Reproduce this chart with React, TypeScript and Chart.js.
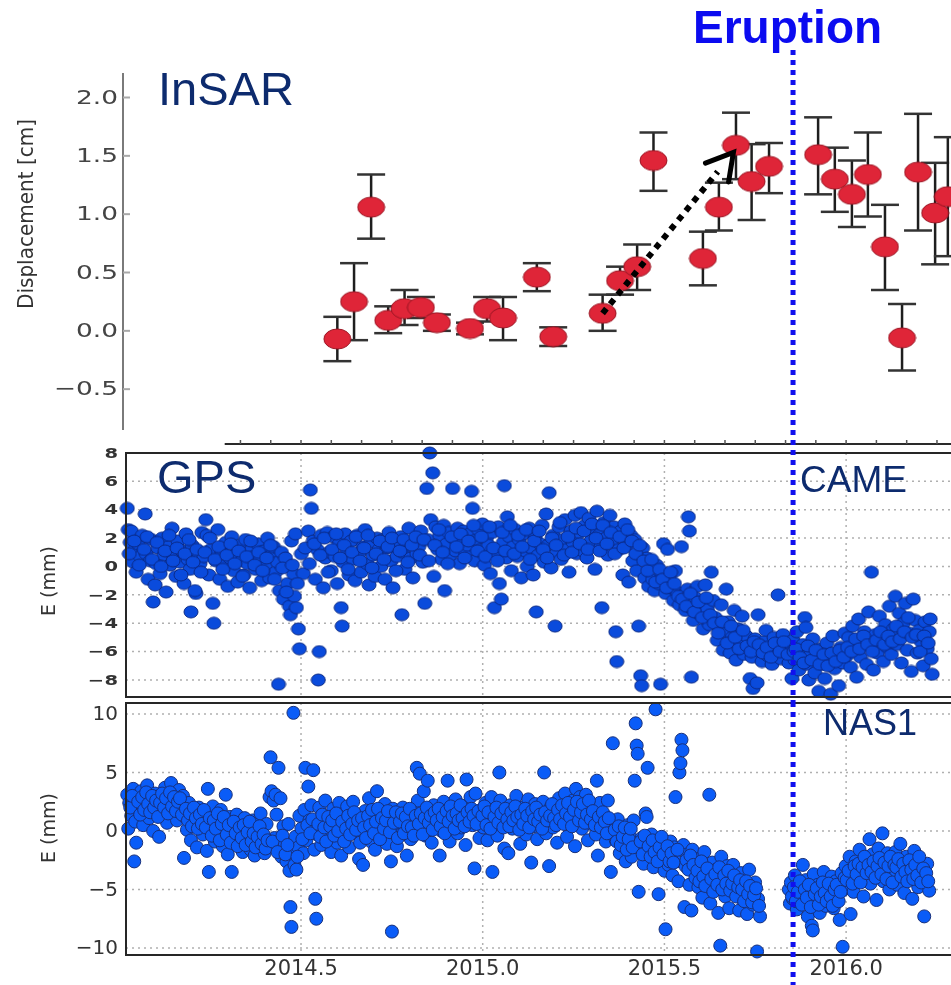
import React, { useEffect, useRef } from "react";
import { Chart, registerables } from "chart.js";

Chart.register(...registerables);

// ---------- shared x axis (decimal years) ----------
const X_TICKS = [2014.5, 2015.0, 2015.5, 2016.0];
const X_TICK_LABELS = ["2014.5", "2015.0", "2015.5", "2016.0"];
const ERUPTION_YEAR = 2015.854;
const GPS_DAY0_YEAR = 2014; // GPS samples: days since 2014-01-01

// ---------- InSAR panel ----------
const INSAR_YEAR = [2014.600, 2014.646, 2014.693, 2014.740, 2014.785, 2014.830, 2014.874, 2014.965, 2015.012, 2015.056, 2015.149, 2015.194, 2015.330, 2015.378, 2015.425, 2015.470, 2015.606, 2015.650, 2015.697, 2015.740, 2015.788, 2015.923, 2015.969, 2016.016, 2016.060, 2016.107, 2016.154, 2016.198, 2016.245, 2016.280];
const INSAR_CM = [-0.07, 0.25, 1.06, 0.09, 0.19, 0.20, 0.07, 0.02, 0.19, 0.11, 0.46, -0.05, 0.15, 0.43, 0.55, 1.46, 0.62, 1.06, 1.59, 1.28, 1.41, 1.51, 1.30, 1.17, 1.34, 0.72, -0.06, 1.36, 1.01, 1.15];
const INSAR_LOW = [-0.26, -0.08, 0.79, -0.02, 0.05, 0.11, 0.00, -0.03, 0.08, -0.08, 0.34, -0.13, 0.00, 0.31, 0.35, 1.20, 0.39, 0.86, 1.30, 0.95, 1.18, 1.17, 1.02, 0.89, 0.98, 0.35, -0.34, 0.86, 0.57, 0.64];
const INSAR_HIGH = [0.12, 0.58, 1.34, 0.21, 0.35, 0.29, 0.14, 0.07, 0.29, 0.29, 0.58, 0.03, 0.31, 0.55, 0.74, 1.70, 0.85, 1.27, 1.87, 1.60, 1.61, 1.83, 1.57, 1.46, 1.70, 1.08, 0.23, 1.86, 1.44, 1.66];
const INSAR_TICKS = [-0.5, 0, 0.5, 1.0, 1.5, 2.0];
const INSAR_TICK_LABELS = ["\u22120.5", "0.0", "0.5", "1.0", "1.5", "2.0"];
const ARROW_FROM = [2015.33, 0.15];
const ARROW_TO = [2015.69, 1.53];

// ---------- GPS CAME (day, E mm) ----------
const CAME_TICKS = [-8, -6, -4, -2, 0, 2, 4, 6, 8];
const CAME_TICK_LABELS = ["\u22128", "\u22126", "\u22124", "\u22122", "0", "2", "4", "6", "8"];
const CAME_DAY_E: [number, number][] = [
  [8,4.1],[9,2.6],[11,1.7],[12,2.5],[14,0.3],[16,1.2],[17,-0.4],[19,1.6],[21,0.7],[23,2.2],[26,3.7],[27,0.9],[29,-0.9],[31,0.4],[32,1.9],[34,-2.5],[36,-1.3],[37,0.2],[39,1.3],[41,-0.5],[43,2.0],[45,0.8],[47,-1.8],[49,1.4],[51,0.1],[53,2.7],[55,0.6],[57,-0.7],[59,1.8],[61,0.3],[63,1.1],[65,-1.2],[67,2.3],[69,0.5],[71,-0.2],[73,1.5],[75,0.9],[77,-1.9],[79,1.0],[81,0.2],
  [72,-3.2],[76,-1.7],[83,2.4],[85,0.7],[87,3.3],[88,2.2],[90,-0.6],[92,1.2],[94,-2.6],[95,-4.0],[97,0.4],[99,2.6],[101,-0.9],[103,1.0],[105,0.1],[107,1.7],[109,-1.4],[111,0.6],[113,2.1],[115,-0.3],[117,0.9],[119,-1.1],[121,1.5],[123,0.4],[125,-0.6],[127,1.9],[129,0.2],[131,-1.5],[133,1.2],[135,0.7],[137,-0.2],[139,1.6],[141,0.5],[143,-1.0],[145,1.1],[147,0.0],[149,2.0],[151,-0.8],[153,0.8],[155,1.4],[157,-0.4],[159,0.3],[161,-1.7],[163,1.0],[165,-2.3],[167,0.6],[169,-1.2],[171,-2.8],[173,1.8],[175,-0.5],
  [160,-8.3],[172,-3.4],[176,-2.1],[178,-2.9],[180,-4.4],[181,-5.8],[177,2.3],[183,0.9],[185,-0.5],
  [190,2.5],[192,5.4],[193,4.1],[195,1.8],[197,-0.9],[200,-8.0],[201,-6.0],[199,1.2],[203,2.2],[205,-1.5],[207,0.6],[209,2.4],[211,1.0],[213,-0.3],[215,2.1],[217,0.7],[219,-1.2],[221,1.6],[223,-2.9],[224,-4.2],[225,0.3],[227,2.3],[229,1.1],[231,-0.6],[233,1.8],[235,0.5],[237,-1.0],[239,2.2],[241,0.9],[243,-0.4],[245,1.4],[247,2.6],[249,0.2],[251,-1.3],[253,1.7],[255,0.8],[257,-0.7],[259,2.0],[261,1.2],[263,0.0],[265,1.9],[267,-0.9],[269,1.3],[271,2.4],[273,0.4],[275,-1.5],[277,1.6],[279,0.7],[284,-3.4],[283,2.1],[285,1.0],[287,-0.2],[289,1.5],[291,2.7],[293,0.6],[295,-0.8],[297,1.8],[299,0.9],
  [301,1.4],[303,2.5],[305,0.3],[307,-2.6],[309,5.5],[310,1.9],[312,8.0],[313,3.3],[315,6.6],[316,-0.7],[318,2.8],[320,1.2],[322,2.2],[324,0.5],[326,2.9],[327,-1.7],[329,1.6],[331,2.4],[333,0.8],[335,5.5],[336,2.0],[338,1.1],[340,2.7],[342,0.2],[344,1.8],[346,2.5],[348,0.9],[350,1.5],[352,2.3],[354,5.3],[355,4.1],[357,0.4],[359,1.9],[361,2.6],
  [363,1.2],[365,3.0],[367,0.1],[369,2.0],[371,1.5],[373,-0.5],[375,2.4],[377,-2.9],[379,1.0],[381,2.8],[382,-1.2],[384,-2.3],[386,1.7],[387,5.7],[389,0.6],[390,3.5],[392,2.1],[394,-0.3],[396,1.4],[398,2.6],[400,0.7],[402,1.9],[404,-0.8],[406,2.3],[408,1.1],[410,0.0],[412,2.7],[414,1.3],[416,-0.6],[418,2.0],[419,-3.2],[421,0.8],[423,1.6],[425,2.9],[427,0.3],[429,3.7],[431,1.5],[432,5.2],[434,-0.1],[436,2.2],[438,-4.2],[440,1.0],[442,2.8],[444,0.5],[446,1.9],[448,3.3],[450,1.2],[452,-0.4],[454,2.5],[456,1.7],[458,3.6],[460,0.9],
  [462,2.4],[464,3.8],[466,1.1],[468,2.9],[470,0.6],[472,3.4],[474,1.8],[476,2.6],[478,-0.2],[480,3.9],[482,2.2],[484,1.4],[485,-2.9],[487,3.1],[489,2.0],[491,0.8],[493,3.6],[495,1.7],[497,2.8],[499,-4.6],[500,-6.7],[502,1.2],[504,2.5],[506,-0.6],[508,3.0],[510,1.5],[512,-1.1],[514,2.2],[516,0.4],[518,1.9],[520,-0.3],[522,-4.2],[524,-7.7],[525,-8.4],[526,1.3],[528,-0.8],[530,0.6],[532,-1.4],[534,0.2],[536,-0.9],[538,-1.7],[540,0.1],[542,-1.2],[544,-8.3],[545,-0.5],[547,1.6],[549,-1.9],[551,1.2],[553,-0.7],[555,-1.5],[557,-2.4],[559,-0.3],[561,-1.8],[563,-2.7],[565,1.4],
  [567,-2.0],[569,-3.1],[571,-1.6],[572,3.5],[573,2.5],[575,-2.9],[577,-3.8],[579,-2.2],[581,-1.4],[583,-3.3],[585,-2.6],[587,-4.4],[589,-1.3],[591,-3.0],[593,-4.1],[595,-0.4],[597,-2.4],
  [575,-7.8],[599,-3.6],[601,-5.2],[603,-4.3],[605,-2.7],[607,-5.9],[609,-4.6],[610,-1.6],[612,-3.9],[614,-6.1],[616,-5.0],[618,-3.1],[620,-6.6],[622,-4.4],[624,-5.5],[626,-3.5],[628,-6.2],[630,-4.9],
  [632,-5.7],[634,-7.9],[636,-6.4],[637,-8.6],[639,-5.1],[641,-8.2],[642,-3.4],[644,-6.0],[646,-6.7],[648,-5.3],[650,-4.5],[652,-6.3],[654,-5.8],[656,-6.9],[658,-5.0],[660,-6.2],[662,-2.0],[663,-5.6],[665,-6.5],[667,-4.8],[669,-6.0],[671,-5.4],[673,-6.8],[675,-5.9],[676,-7.9],
  [677,-5.2],[679,-6.6],[681,-4.6],[683,-7.3],[685,-6.0],[687,-5.5],[689,-3.6],[690,-4.3],[691,-6.9],[693,-8.0],[695,-6.2],[697,-5.1],[699,-7.5],[701,-6.4],[703,-8.8],[705,-5.8],[707,-6.9],[709,-7.9],[711,-5.4],[713,-6.6],[715,-9.0],[717,-4.9],[719,-7.2],[721,-6.1],[723,-8.4],[725,-5.7],[727,-6.8],[729,-4.7],
  [731,-6.3],[733,-5.0],[735,-7.1],[737,-4.2],[739,-5.9],[741,-7.8],[743,-3.7],[745,-6.4],[747,-5.3],[749,-4.6],[751,-6.9],[753,-3.2],[755,-5.6],[756,-0.4],[758,-7.3],[760,-4.8],[762,-6.1],[764,-3.5],[766,-5.2],[768,-6.7],[770,-4.1],[772,-5.7],[774,-2.8],[776,-6.2],[778,-4.4],
  [780,-2.1],[782,-5.5],[784,-3.3],[786,-6.8],[788,-4.0],[790,-2.6],[792,-5.9],[794,-4.7],[796,-7.4],[798,-2.3],[800,-3.8],[802,-6.1],[804,-4.5],[806,-5.3],[808,-7.0],[810,-3.9],[812,-5.8],[814,-4.6],[816,-6.5],[817,-7.6],
  // additional daily samples inside the dense band
  [10,0.9],[15,1.8],[20,0.1],[25,1.2],[28,2.1],[33,0.5],[38,1.7],[42,0.0],[46,1.1],[50,2.2],[54,0.4],[58,1.3],[62,-0.6],[66,0.9],[70,1.9],[74,0.3],[78,1.2],[82,-0.4],[86,1.0],[91,2.0],[96,0.5],[100,1.4],[104,-0.2],[108,0.8],[112,1.6],[116,0.2],[120,1.1],[124,-0.7],[128,0.7],[132,1.8],[136,0.1],[140,1.0],[144,-0.3],[148,0.6],[152,1.5],[156,-0.9],[164,-0.1],[168,-1.8],[174,0.1],[179,-1.2],
  [187,1.3],[191,0.2],[196,1.6],[202,0.8],[206,2.0],[210,-0.4],[214,1.2],[218,2.3],[222,0.6],[226,1.5],[230,-0.2],[234,1.0],[238,2.1],[242,0.4],[246,1.3],[250,2.2],[254,-0.1],[258,0.9],[262,1.8],[266,0.5],[270,1.4],[274,2.0],[278,-0.3],[282,1.1],[286,1.9],[290,0.3],[294,1.5],[298,2.1],
  [302,0.8],[306,1.9],[311,0.4],[317,1.5],[321,2.6],[325,1.0],[330,0.2],[334,2.1],[339,1.4],[343,2.3],[347,0.6],[351,1.8],[356,2.9],[360,1.1],
  [364,2.1],[368,0.7],[372,2.8],[376,1.3],[380,0.4],[385,2.4],[388,1.1],[393,2.9],[397,0.9],[401,2.2],[405,1.4],[409,2.6],[413,0.5],[417,1.8],[422,2.5],[426,1.2],[430,0.6],[435,2.0],[439,1.5],[443,3.1],[447,0.8],[451,2.1],[455,1.0],[459,2.7],
  [463,1.6],[467,2.5],[471,1.2],[475,3.0],[479,2.0],[483,1.1],[486,2.9],[490,1.6],[494,2.4],[498,0.9],[503,2.1],[507,1.3],[511,2.6],[515,1.8],[519,0.9],[523,1.5],[527,0.4],
  [531,-0.3],[535,0.5],[539,-1.1],[543,-0.2],[546,-0.9],[550,-1.5],[554,-0.4],[558,-1.2],[562,-2.1],
  [566,-2.3],[570,-2.8],[574,-1.9],[578,-3.2],[582,-2.5],[586,-3.6],[590,-2.2],[594,-3.4],[598,-4.0],
  [602,-4.7],[606,-3.9],[611,-5.4],[615,-4.2],[619,-5.0],[623,-5.8],[627,-4.5],[631,-5.6],[635,-6.0],[638,-5.3],
  [643,-5.5],[647,-6.1],[651,-5.7],[655,-6.4],[659,-5.4],[664,-6.0],[668,-5.3],[672,-6.2],[678,-6.0],
  [680,-5.8],[684,-6.4],[688,-6.8],[692,-5.6],[696,-6.6],[700,-5.9],[704,-6.9],[708,-6.2],[712,-7.0],[716,-6.1],[720,-6.7],[724,-5.9],[728,-6.4],[732,-5.7],[736,-6.0],
  [740,-5.1],[744,-5.8],[748,-4.9],[752,-5.5],[757,-6.0],[761,-5.2],[765,-4.6],[769,-5.5],[773,-4.9],[777,-5.3],
  [781,-4.2],[785,-5.1],[789,-4.6],[793,-3.6],[797,-5.0],[801,-4.8],[805,-6.0],[809,-4.9],[813,-5.4],[815,-3.7],
];

// ---------- GPS NAS1 (day, E mm) ----------
const NAS1_TICKS = [-10, -5, 0, 5, 10];
const NAS1_TICK_LABELS = ["\u221210", "\u22125", "0", "5", "10"];
const NAS1_DAY_E: [number, number][] = [
  [8,3.1],[9,0.2],[10,2.4],[12,1.3],[14,3.6],[15,-2.6],[16,0.8],[17,-1.0],[18,2.8],[20,1.7],[22,3.4],[24,0.5],[26,2.2],[28,3.9],[30,1.1],[32,2.6],[34,0.0],[36,3.2],[38,1.8],[40,-0.5],[42,2.9],[44,1.4],[46,3.7],[48,0.7],[50,2.3],[52,4.1],[54,1.6],[56,2.7],[58,0.9],[60,3.5],[62,1.9],[64,3.0],
  [65,-2.3],[66,1.2],[68,0.1],[70,2.4],[72,-0.8],[74,1.6],[76,0.5],[78,-1.4],[80,2.0],[82,0.9],[84,-0.3],[86,1.5],[88,-1.7],[89,3.6],[90,-3.5],[92,0.6],[94,2.1],[96,-0.9],[98,1.0],[100,-0.2],[102,1.8],[104,-1.3],[106,0.4],[107,3.1],[109,-2.0],[111,1.2],[113,-3.5],[114,0.0],[116,-1.1],[118,1.4],[120,-0.5],[122,0.7],[124,-1.8],[126,1.1],[128,-0.7],[130,0.3],[132,-1.6],[134,0.9],[136,-2.1],[138,0.2],[140,-1.0],[142,1.5],[144,-0.4],[146,-1.9],[148,0.6],
  [150,-1.2],[151,2.9],[152,6.3],[153,3.4],[155,2.6],[156,-0.6],[157,3.1],[158,1.4],[160,5.4],[161,-1.5],[162,2.8],[163,-2.2],[165,0.4],[166,-1.0],[168,-2.6],[170,0.6],[171,-3.4],[172,-6.5],[173,-8.2],[174,-2.0],[175,10.1],[176,-2.9],[177,-0.5],[178,-3.3],[180,-1.4],[181,1.3],
  [183,0.2],[185,-1.9],[186,1.8],[187,5.4],[188,-0.8],[190,3.8],[191,0.9],[193,2.2],[195,5.2],[196,-1.6],[197,-5.8],[198,-7.5],[199,-0.3],[201,2.0],[203,-1.2],[205,1.1],[207,2.6],[209,-0.6],[211,0.5],[213,-1.8],[215,1.9],[217,0.3],[219,-1.0],[221,2.4],[222,1.4],[223,-2.1],[225,0.7],[227,-0.5],[229,2.1],[231,-1.4],[233,0.9],[235,2.5],[237,-0.2],[239,1.2],[241,-2.4],[243,0.4],[245,-2.9],[247,1.7],[249,0.1],[251,2.8],[253,-0.9],[255,1.0],[257,-1.6],[259,3.4],[261,0.6],[263,-0.4],[265,1.5],[267,2.3],[269,-1.1],[271,0.8],[273,-2.6],[274,-8.6],[275,1.9],[277,0.2],[279,-1.3],[281,1.1],[283,-0.3],[285,2.0],[287,0.5],[289,-2.1],[291,1.3],[293,-0.7],[295,1.8],[297,0.1],[299,5.4],[300,2.6],[302,4.9],[304,0.8],[306,3.4],[308,-0.4],[310,4.3],[312,1.6],[314,-1.0],[316,2.2],[318,0.4],[320,1.3],[322,-2.1],[324,0.0],[326,2.5],[328,1.0],[330,4.3],[332,-0.9],[334,1.8],[336,0.6],[338,2.7],[340,-0.2],[342,1.4],[344,0.3],[346,2.1],[348,-1.2],[349,4.4],[351,1.0],[353,2.9],[355,0.5],[357,-3.2],[358,3.2],[360,1.6],[362,-0.6],
  [364,1.8],[366,0.3],[368,2.4],[370,-0.8],[372,1.2],[374,2.9],[375,-3.5],[376,0.6],[378,1.9],[380,-0.4],[382,5.0],[383,2.6],[385,0.9],[387,-1.5],[389,1.5],[391,-1.9],[393,2.2],[395,0.2],[397,1.7],[399,3.0],[401,0.5],[403,-1.1],[405,2.0],[407,1.0],[409,-0.3],[411,2.7],[413,1.3],[414,-2.7],[416,0.4],[418,2.3],[420,-0.7],[422,1.6],[424,0.8],[426,2.5],[427,5.0],[429,-0.2],[431,1.4],[432,-3.0],[434,2.1],[436,0.3],[438,1.8],[440,-1.0],[442,2.8],[444,0.9],[446,1.5],[448,3.2],[450,-0.5],[452,2.0],[454,0.7],[456,2.6],[458,-1.3],[459,3.6],[461,1.1],[463,2.9],[465,0.2],[467,1.7],[469,3.1],[471,-0.8],[473,2.2],[475,0.6],[477,1.9],[479,-0.3],[480,4.3],[481,-2.1],[483,2.4],[485,0.9],[487,1.4],[489,-0.9],[491,2.6],[493,0.4],[494,-3.5],
  [496,7.5],[497,0.6],[499,-0.8],[501,1.0],[503,-1.9],[505,0.2],[507,-1.3],[509,-2.6],[511,0.5],[513,-0.4],[515,-2.2],[517,0.9],[518,4.3],[519,9.2],[520,7.3],[521,6.6],[522,-5.2],[523,-1.5],[525,-0.6],[527,-2.8],[529,1.5],[530,1.2],[531,5.4],[533,-1.7],[535,-0.3],[537,-3.1],[539,10.4],[540,-1.1],[542,-5.4],[544,-2.4],
  [546,-0.7],[548,-3.4],[549,-8.4],[550,-1.8],[552,-2.9],[554,-0.9],[556,-3.8],[558,-1.4],[559,2.9],[560,-2.6],[562,-4.3],[563,5.0],[564,5.8],[565,7.8],[566,6.9],[567,-1.2],[568,-6.5],[569,-3.0],[571,-2.0],[573,-4.6],[575,-6.8],[576,-1.6],[578,-3.5],
  [580,-2.4],[582,-4.8],[584,-3.1],[586,-5.7],[588,-1.8],[590,-4.2],[592,-3.6],[593,3.1],[594,-6.2],[596,-2.7],[598,-4.9],[600,-3.3],[602,-7.0],[604,-9.8],[605,-2.2],[607,-4.4],[609,-5.6],[611,-3.0],[613,-6.6],[615,-4.0],
  [617,-2.9],[619,-5.3],[621,-4.1],[623,-6.8],[625,-3.6],[627,-5.9],[629,-4.6],[631,-7.1],[633,-3.3],[635,-5.2],[637,-6.3],[639,-4.4],[641,-10.3],[642,-5.8],[644,-7.3],
  [673,-5.0],[674,-6.2],[675,-4.4],[677,-5.8],[679,-3.8],[681,-6.7],[683,-4.9],[685,-5.5],[687,-2.9],[688,-6.1],[690,-4.2],[692,-7.3],[694,-5.1],[696,-8.1],[697,-8.5],[698,-3.7],[700,-6.0],[702,-4.6],[704,-7.0],[706,-5.3],[708,-3.5],[710,-6.4],[712,-4.8],[714,-5.9],[716,-3.9],[718,-6.6],[720,-4.3],[722,-5.4],[724,-7.6],[726,-3.6],[727,-9.9],[728,-5.0],
  [730,-3.0],[732,-4.7],[734,-2.2],[735,-7.1],[736,-3.8],[738,-5.2],[740,-2.6],[742,-4.1],[744,-1.6],[746,-3.4],[748,-5.6],[750,-2.4],[752,-3.9],[754,-0.7],[755,-4.5],[757,-2.0],[759,-3.1],[761,-5.9],[763,-1.5],[765,-2.8],[767,-0.2],[768,-4.3],[770,-3.2],[772,-1.9],[774,-5.0],[776,-2.5],[778,-3.6],
  [780,-1.8],[782,-4.6],[784,-2.9],[785,-1.1],[787,-3.7],[789,-5.3],[791,-2.2],[793,-4.0],[795,-3.0],[797,-5.8],[799,-1.7],[801,-3.5],[803,-4.8],[805,-2.6],[807,-3.9],[809,-7.3],[810,-4.2],[812,-2.8],[814,-5.1],
  // additional daily samples inside the dense band
  [11,2.0],[13,3.0],[19,2.5],[21,1.4],[23,2.9],[25,1.8],[27,3.3],[29,2.3],[31,1.6],[33,3.0],[35,2.0],[37,2.6],[39,1.2],[41,2.4],[43,3.2],[45,2.0],[47,2.8],[49,1.5],[51,3.3],[53,2.1],[55,2.9],[57,1.7],[59,2.5],[61,2.8],[63,1.4],
  [67,1.9],[69,0.9],[71,1.5],[73,0.4],[75,2.0],[77,1.1],[79,0.2],[81,1.4],[83,0.6],[85,1.8],[87,0.3],[91,1.1],[93,-0.4],[95,0.9],[97,0.2],[99,1.5],[101,-0.8],[103,0.6],[105,1.2],[108,-0.3],[110,0.5],[112,-1.0],[115,0.8],[117,-0.2],[119,-1.3],[121,0.3],[123,-0.6],[125,0.5],[127,-1.2],[129,-0.1],[131,0.8],[133,-0.9],[135,-0.2],[137,-1.4],[139,-0.5],[141,0.4],[143,-1.1],[145,-0.3],[147,-1.5],[149,-0.8],
  [154,-0.9],[159,-1.8],[164,-0.4],[167,-2.0],[169,-1.2],[179,-2.2],
  [184,-0.7],[189,0.5],[192,-0.2],[194,1.0],[200,0.6],[202,-0.5],[204,1.4],[206,0.3],[208,-0.9],[210,1.2],[212,0.4],[214,0.9],[216,-0.4],[218,1.5],[220,0.0],[224,0.8],[226,-0.9],[228,0.2],[230,1.3],[232,-0.3],[234,0.6],[236,1.6],[238,0.1],[240,0.9],[242,-1.0],[244,1.1],[246,0.3],[248,-0.6],[250,1.3],[252,0.5],[254,1.8],[256,-0.2],[258,0.8],[260,1.9],[262,-0.7],[264,1.1],[266,0.2],[268,0.9],[270,1.7],[272,-0.1],[276,0.7],[278,1.6],[280,-0.6],[282,0.8],[284,1.5],[286,-0.2],[288,1.2],[290,0.4],[292,1.9],[294,0.3],[296,-0.4],[298,1.3],
  [301,0.6],[303,1.5],[305,-0.3],[307,1.1],[309,2.0],[311,0.7],[313,1.3],[315,0.1],[317,1.6],[319,0.9],[321,1.9],[323,0.4],[325,1.2],[327,-0.2],[329,1.7],[331,0.8],[333,2.1],[335,1.3],[337,0.2],[339,1.5],[341,0.9],[343,2.2],[345,1.1],[347,0.4],[350,1.6],[352,0.8],[354,1.9],[356,1.3],[359,0.6],[361,1.7],
  [365,1.3],[367,2.1],[369,0.5],[371,1.6],[373,0.2],[377,1.2],[379,2.0],[381,0.7],[384,1.5],[386,0.3],[388,1.9],[390,1.0],[392,0.4],[394,1.6],[396,0.9],[398,2.1],[400,1.2],[402,0.1],[404,1.4],[406,0.6],[408,1.9],[410,1.3],[412,0.3],[415,1.7],[417,1.0],[419,2.0],[421,0.8],[423,1.4],[425,0.2],[428,1.6],[430,0.9],[433,1.3],[435,2.3],[437,1.1],[439,0.5],[441,1.8],[443,1.0],[445,2.2],[447,0.6],[449,1.5],[451,2.4],[453,1.2],[455,0.4],[457,1.8],[460,2.5],[462,0.9],[464,1.6],[466,2.3],[468,0.7],[470,1.4],[472,2.6],[474,1.0],[476,1.7],[478,0.5],[482,1.2],[484,0.3],[486,1.6],[488,0.8],[490,-0.2],[492,1.1],
  [498,0.1],[500,-0.9],[502,0.4],[504,-1.2],[506,-0.5],[508,0.3],[510,-1.6],[512,-0.7],[514,0.2],[516,-1.4],[524,-0.9],[526,-2.0],[528,-0.4],[532,-1.3],[534,-2.2],[536,-0.8],[538,-1.8],[541,-2.6],[543,-1.4],[545,-0.5],
  [547,-2.0],[551,-1.3],[553,-2.6],[555,-1.9],[557,-2.7],[561,-1.6],[570,-2.5],[572,-3.3],[574,-2.1],[577,-2.9],[579,-4.0],
  [581,-3.4],[583,-4.3],[585,-2.6],[587,-3.9],[589,-4.7],[591,-3.2],[595,-4.1],[597,-5.2],[599,-3.7],[601,-4.6],[603,-3.1],[606,-5.0],[608,-3.8],[610,-4.5],[612,-3.4],[614,-5.1],
  [616,-4.5],[618,-3.8],[620,-5.6],[622,-4.8],[624,-4.2],[626,-5.0],[628,-6.0],[630,-4.3],[632,-5.4],[634,-4.7],[636,-6.1],[638,-5.5],[640,-4.9],[643,-6.4],
  [676,-5.6],[678,-4.8],[680,-6.0],[682,-5.2],[684,-4.3],[686,-6.3],[689,-5.0],[691,-5.7],[693,-4.6],[695,-6.5],[699,-5.4],[701,-4.9],[703,-6.3],[705,-5.6],[707,-4.4],[709,-5.3],[711,-6.0],[713,-4.5],[715,-5.6],[717,-6.4],[719,-5.0],[721,-4.6],[723,-6.0],[725,-5.2],[729,-4.0],
  [731,-4.2],[733,-3.4],[737,-4.5],[739,-3.0],[741,-3.7],[743,-2.8],[745,-4.4],[747,-3.1],[749,-2.2],[751,-3.6],[753,-2.9],[756,-3.5],[758,-2.6],[760,-4.0],[762,-3.0],[764,-2.3],[766,-3.7],[769,-2.7],[771,-4.1],[773,-3.0],[775,-2.2],[777,-4.4],[779,-2.9],
  [781,-3.1],[783,-2.4],[786,-3.9],[788,-2.8],[790,-3.5],[792,-4.3],[794,-2.5],[796,-3.3],[798,-4.1],[800,-2.9],[802,-3.8],[804,-2.2],[806,-4.4],[808,-3.2],[811,-3.6],[813,-4.3],
];

// ---------- styling / layout ----------
const PAGE_W = 951;
const NAVY = "#0d2b6e";
const BLUE_LINE = "#1010ee";
const TICK_FONT = "'DejaVu Sans', sans-serif";
const LABEL_FONT = "'Liberation Sans', Arial, sans-serif";

function dayToYear(d: number) {
  return GPS_DAY0_YEAR + d / 365.25;
}

function text(ctx: CanvasRenderingContext2D, s: string, x: number, y: number, font: string, color: string, align: CanvasTextAlign, baseline: CanvasTextBaseline, sx = 1, sy = 1, rot = 0) {
  ctx.save();
  ctx.translate(x, y);
  if (rot) ctx.rotate(rot);
  ctx.scale(sx, sy);
  ctx.font = font;
  ctx.fillStyle = color;
  ctx.textAlign = align;
  ctx.textBaseline = baseline;
  ctx.fillText(s, 0, 0);
  ctx.restore();
}

function line(ctx: CanvasRenderingContext2D, x1: number, y1: number, x2: number, y2: number, color: string, width: number, dash: number[] = []) {
  ctx.save();
  ctx.strokeStyle = color;
  ctx.lineWidth = width;
  ctx.setLineDash(dash);
  ctx.beginPath();
  ctx.moveTo(x1, y1);
  ctx.lineTo(x2, y2);
  ctx.stroke();
  ctx.restore();
}

function drawEruption(chart: any, yTop: number) {
  const x = chart.scales.x.getPixelForValue(ERUPTION_YEAR);
  line(chart.ctx, x, yTop, x, chart.height, BLUE_LINE, 5, [5, 5]);
}

function drawGpsGrid(chart: any, yTicks: number[]) {
  const { ctx, chartArea: a, scales } = chart;
  for (const v of yTicks) {
    const py = scales.y.getPixelForValue(v);
    line(ctx, a.left, py, a.right, py, "#b0b0b0", 1.5, [2, 4]);
  }
  for (const v of X_TICKS) {
    const px = scales.x.getPixelForValue(v);
    line(ctx, px, a.top, px, a.bottom, "#b0b0b0", 1.5, [2, 4]);
  }
}

function drawFrame(chart: any) {
  const { ctx, chartArea: a } = chart;
  line(ctx, a.left - 1, a.top, a.right, a.top, "#262626", 2);
  line(ctx, a.left, a.top, a.left, a.bottom, "#262626", 2);
  line(ctx, a.left - 1, a.bottom, a.right, a.bottom, "#262626", 2);
}

function makeEllipseMarker(w: number, h: number, fill: string, stroke: string) {
  const c = document.createElement("canvas");
  c.width = w + 2;
  c.height = h + 2;
  const g = c.getContext("2d")!;
  g.beginPath();
  g.ellipse(c.width / 2, c.height / 2, w / 2, h / 2, 0, 0, Math.PI * 2);
  g.fillStyle = fill;
  g.fill();
  g.lineWidth = 1;
  g.strokeStyle = stroke;
  g.stroke();
  return c;
}

function baseOptions(pad: any, xMin: number, xMax: number, yMin: number, yMax: number) {
  return {
    responsive: false,
    maintainAspectRatio: false,
    animation: false,
    events: [],
    layout: { padding: pad, autoPadding: false },
    plugins: { legend: { display: false }, tooltip: { enabled: false } },
    scales: {
      x: { type: "linear", display: false, min: xMin, max: xMax },
      y: { type: "linear", display: false, min: yMin, max: yMax },
    },
  };
}

export default function App() {
  const r1 = useRef<HTMLCanvasElement>(null);
  const r2 = useRef<HTMLCanvasElement>(null);
  const r3 = useRef<HTMLCanvasElement>(null);

  useEffect(() => {
    // ---------------- InSAR ----------------
    const insarPlugin = {
      id: "insarDecor",
      beforeDatasetsDraw(chart: any) {
        const { ctx, chartArea: a, scales } = chart;
        line(ctx, a.left, a.top, a.left, a.bottom, "#7a7a7a", 2);
        for (const v of INSAR_TICKS) {
          const py = scales.y.getPixelForValue(v);
          line(ctx, a.left, py, a.left + 7, py, "#a8a8a8", 2);
        }
        for (let i = 0; i < INSAR_YEAR.length; i++) {
          const px = scales.x.getPixelForValue(INSAR_YEAR[i]);
          const pLo = scales.y.getPixelForValue(INSAR_LOW[i]);
          const pHi = scales.y.getPixelForValue(INSAR_HIGH[i]);
          line(ctx, px, pLo, px, pHi, "#1e1e1e", 2.5);
          line(ctx, px - 14, pLo, px + 14, pLo, "#333", 2.5);
          line(ctx, px - 14, pHi, px + 14, pHi, "#333", 2.5);
        }
      },
      afterDraw(chart: any) {
        const { ctx, scales } = chart;
        const x0 = scales.x.getPixelForValue(ARROW_FROM[0]);
        const y0 = scales.y.getPixelForValue(ARROW_FROM[1]);
        const x1 = scales.x.getPixelForValue(ARROW_TO[0]);
        const y1 = scales.y.getPixelForValue(ARROW_TO[1]);
        const xe = x0 + (x1 - x0) * 0.88;
        const ye = y0 + (y1 - y0) * 0.88;
        line(ctx, x0, y0, xe, ye, "#000", 6, [6, 6]);
        const ang = Math.atan2(y1 - y0, x1 - x0);
        ctx.save();
        ctx.strokeStyle = "#000";
        ctx.lineWidth = 5;
        ctx.lineCap = "round";
        ctx.beginPath();
        ctx.moveTo(x1 - 30 * Math.cos(ang + 0.52), y1 - 30 * Math.sin(ang + 0.52));
        ctx.lineTo(x1, y1);
        ctx.lineTo(x1 - 30 * Math.cos(ang - 0.52), y1 - 30 * Math.sin(ang - 0.52));
        ctx.stroke();
        ctx.restore();
        drawEruption(chart, 50);
        text(ctx, "Eruption", 693, 43, `bold 46px ${LABEL_FONT}`, "#0b0bf0", "left", "alphabetic");
        text(ctx, "InSAR", 158, 105, `47px ${LABEL_FONT}`, NAVY, "left", "alphabetic");
        INSAR_TICKS.forEach((v, i) => {
          const py = scales.y.getPixelForValue(v);
          text(ctx, INSAR_TICK_LABELS[i], 118, py + 1, `20px ${TICK_FONT}`, "#444", "right", "middle", 1.32, 1);
        });
        text(ctx, "Displacement [cm]", 27, 214, `20px ${TICK_FONT}`, "#333", "center", "middle", 1.0, 1.1, -Math.PI / 2);
      },
    };
    const c1 = new Chart(r1.current!, {
      type: "scatter",
      data: {
        datasets: [
          {
            data: INSAR_YEAR.map((t, i) => ({ x: t, y: INSAR_CM[i] })),
            pointStyle: makeEllipseMarker(27, 20, "#df2538", "#9a1624"),
            pointRadius: 12,
            clip: false,
          } as any,
        ],
      },
      options: baseOptions({ left: 123, top: 73, right: 0, bottom: 10 }, 2014.0102, 2016.2887, -0.85, 2.21) as any,
      plugins: [insarPlugin],
    });

    // ---------------- CAME ----------------
    const camePlugin = {
      id: "cameDecor",
      beforeDatasetsDraw(chart: any) {
        const { ctx, scales } = chart;
        drawGpsGrid(chart, CAME_TICKS);
        const xs = scales.x.getPixelForValue(2014.29);
        line(ctx, xs, 4, PAGE_W, 4, "#2a2a2a", 2);
        for (let m = 4; m <= 27; m++) {
          const px = scales.x.getPixelForValue(2014 + m / 12);
          if (px > xs) line(ctx, px, 0, px, 4, "#555", 1.5);
        }
      },
      afterDraw(chart: any) {
        const { ctx, scales } = chart;
        drawFrame(chart);
        drawEruption(chart, 0);
        CAME_TICKS.forEach((v, i) => {
          const py = scales.y.getPixelForValue(v);
          text(ctx, CAME_TICK_LABELS[i], 118, py + 1, `bold 15px ${TICK_FONT}`, "#333", "right", "middle", 1.3, 0.95);
        });
        text(ctx, "E (mm)", 50, 141, `19px ${TICK_FONT}`, "#333", "center", "middle", 1, 1.05, -Math.PI / 2);
        text(ctx, "GPS", 157, 53, `47px ${LABEL_FONT}`, NAVY, "left", "alphabetic");
        text(ctx, "CAME", 800, 52, `37px ${LABEL_FONT}`, NAVY, "left", "alphabetic");
      },
    };
    const c2 = new Chart(r2.current!, {
      type: "scatter",
      data: {
        datasets: [
          {
            data: CAME_DAY_E.map(([d, e]) => ({ x: dayToYear(d), y: e })),
            pointStyle: makeEllipseMarker(14, 12, "#0a4bdc", "#0b2a86"),
            pointRadius: 7,
            clip: false,
          } as any,
        ],
      },
      options: baseOptions({ left: 126, top: 13, right: 0, bottom: 5 }, 2014.0184, 2016.2886, -9.2, 8.0) as any,
      plugins: [camePlugin],
    });

    // ---------------- NAS1 ----------------
    const nasPlugin = {
      id: "nasDecor",
      beforeDatasetsDraw(chart: any) {
        drawGpsGrid(chart, NAS1_TICKS);
      },
      afterDraw(chart: any) {
        const { ctx, scales, chartArea: a } = chart;
        drawFrame(chart);
        drawEruption(chart, 0);
        NAS1_TICKS.forEach((v, i) => {
          const py = scales.y.getPixelForValue(v);
          text(ctx, NAS1_TICK_LABELS[i], 118, py + 1, `20px ${TICK_FONT}`, "#333", "right", "middle");
        });
        X_TICKS.forEach((v, i) => {
          const px = scales.x.getPixelForValue(v);
          text(ctx, X_TICK_LABELS[i], px, a.bottom + 15, `21px ${TICK_FONT}`, "#333", "center", "middle");
        });
        text(ctx, "E (mm)", 50, 126, `19px ${TICK_FONT}`, "#333", "center", "middle", 1, 1.05, -Math.PI / 2);
        text(ctx, "NAS1", 823, 33, `36px ${LABEL_FONT}`, NAVY, "left", "alphabetic");
      },
    };
    const c3 = new Chart(r3.current!, {
      type: "scatter",
      data: {
        datasets: [
          {
            data: NAS1_DAY_E.map(([d, e]) => ({ x: dayToYear(d), y: e })),
            pointRadius: 6.5,
            pointBackgroundColor: "#0a5cf8",
            pointBorderColor: "#18307a",
            pointBorderWidth: 1,
            clip: false,
          } as any,
        ],
      },
      options: baseOptions({ left: 126, top: 1, right: 0, bottom: 30 }, 2014.0184, 2016.2886, -10.6, 10.94) as any,
      plugins: [nasPlugin],
    });

    return () => {
      c1.destroy();
      c2.destroy();
      c3.destroy();
    };
  }, []);

  const cv = (top: number, h: number): React.CSSProperties => ({
    position: "absolute",
    left: 0,
    top,
    width: PAGE_W,
    height: h,
    display: "block",
  });

  return (
    <div style={{ position: "absolute", left: 0, top: 0, width: PAGE_W, height: 985, background: "#fff", overflow: "hidden" }}>
      <canvas ref={r1} width={PAGE_W} height={440} style={cv(0, 440)} />
      <canvas ref={r2} width={PAGE_W} height={262} style={cv(440, 262)} />
      <canvas ref={r3} width={PAGE_W} height={283} style={cv(702, 283)} />
    </div>
  );
}
